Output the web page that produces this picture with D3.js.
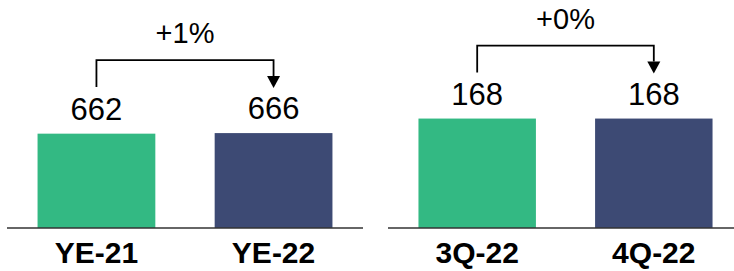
<!DOCTYPE html>
<html>
<head>
<meta charset="utf-8">
<script src="https://cdn.jsdelivr.net/npm/d3@7"></script>
<style>
  html, body { margin: 0; padding: 0; background: #fff; }
  svg { display: block; }
  text { font-family: "Liberation Sans", Arial, sans-serif; }
</style>
</head>
<body>
<svg id="chart" width="734" height="271"></svg>
<script>
// ---- data ----
const leftCategories = ["YE-21", "YE-22"];
const leftValues = [662, 666];
const leftChange = "+1%";

const rightCategories = ["3Q-22", "4Q-22"];
const rightValues = [168, 168];
const rightChange = "+0%";

const barColors = ["#33B983", "#3D4A74"];

const svg = d3.select("#chart");
const baseY = 228;

function panel(categories, values, change, xRange, yMax) {
  const g = svg.append("g");
  const x = d3.scalePoint().domain(categories).range(xRange).padding(0.505);
  const y = d3.scaleLinear().domain([0, yMax]).range([baseY, 0]);
  const bw = x.step() * 0.665;

  const data = categories.map((c, i) => ({ c, v: values[i], i }));

  g.selectAll("rect.bar").data(data).enter().append("rect")
    .attr("class", "bar")
    .attr("x", d => x(d.c) - bw / 2)
    .attr("y", d => y(d.v))
    .attr("width", bw)
    .attr("height", d => baseY - y(d.v))
    .attr("fill", d => barColors[d.i]);

  // baseline
  g.append("line")
    .attr("x1", xRange[0]).attr("x2", xRange[1])
    .attr("y1", baseY).attr("y2", baseY)
    .attr("stroke", "#333").attr("stroke-width", 1.5);

  // value labels
  g.selectAll("text.val").data(data).enter().append("text")
    .attr("class", "val")
    .attr("x", d => x(d.c))
    .attr("y", d => y(d.v) - 14)
    .attr("text-anchor", "middle")
    .attr("font-size", 31)
    .attr("fill", "#000")
    .text(d => d.v);

  // category labels
  g.selectAll("text.cat").data(data).enter().append("text")
    .attr("class", "cat")
    .attr("x", d => x(d.c))
    .attr("y", 263)
    .attr("text-anchor", "middle")
    .attr("font-size", 30)
    .attr("font-weight", "bold")
    .attr("fill", "#000")
    .text(d => d.c);

  // bracket arrow
  const topBar = y(d3.max(values));
  const legBottom = topBar - 46;
  const brTop = legBottom - 27;
  const x0 = x(categories[0]), x1 = x(categories[1]);
  const tip = legBottom + 1;
  const ah = 12, aw = 6.5;
  g.append("path")
    .attr("d", `M${x0},${legBottom} V${brTop} H${x1} V${tip - ah}`)
    .attr("fill", "none").attr("stroke", "#000").attr("stroke-width", 1.8);
  g.append("path")
    .attr("d", `M${x1 - aw},${tip - ah} L${x1 + aw},${tip - ah} L${x1},${tip} Z`)
    .attr("fill", "#000");

  g.append("text")
    .attr("x", (x0 + x1) / 2)
    .attr("y", brTop - 17)
    .attr("text-anchor", "middle")
    .attr("font-size", 29)
    .attr("fill", "#000")
    .text(change);
}

panel(leftCategories, leftValues, leftChange, [7, 363], 1600);
panel(rightCategories, rightValues, rightChange, [388, 743], 350);
</script>
</body>
</html>
